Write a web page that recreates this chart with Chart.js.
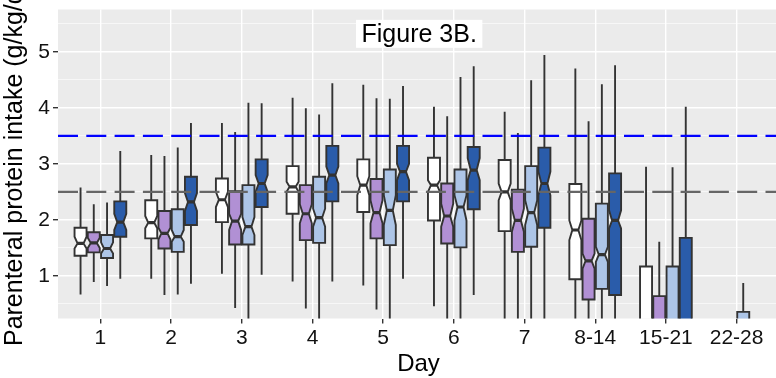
<!DOCTYPE html>
<html>
<head>
<meta charset="utf-8">
<script src="https://cdn.jsdelivr.net/npm/chart.js@4.4.1/dist/chart.umd.min.js"></script>
<style>
  html, body { margin: 0; padding: 0; overflow: hidden; background: #fff; }
  #wrap { width: 780px; height: 378px; position: relative; }
</style>
</head>
<body>
<div id="wrap"><canvas id="chart"></canvas></div>
<script>
// x categories
const days = ['1', '2', '3', '4', '5', '6', '7', '8-14', '15-21', '22-28']

// each entry: [whisker low, Q1, median, Q3, whisker high, notch low, notch high]
const groupWhite = [
  [0.67, 1.36, 1.58, 1.86, 2.58, 1.49, 1.70],
  [0.95, 1.67, 1.95, 2.35, 3.16, 1.85, 2.07],
  [1.04, 1.96, 2.36, 2.74, 3.73, 2.23, 2.50],
  [0.90, 2.11, 2.59, 2.96, 4.18, 2.50, 2.68],
  [0.83, 2.14, 2.62, 3.08, 4.41, 2.44, 2.78],
  [0.46, 1.99, 2.62, 3.11, 4.02, 2.50, 2.71],
  [0.10, 1.80, 2.50, 3.07, 3.93, 2.35, 2.65],
  [0.05, 0.94, 1.82, 2.64, 4.70, 1.64, 1.99],
  [0, 0, 0, 1.17, 2.95, null, null],
  null,
]
const groupPurple = [
  [0.89, 1.42, 1.59, 1.78, 2.28, 1.50, 1.68],
  [0.66, 1.49, 1.76, 2.16, 3.14, 1.65, 1.86],
  [0.43, 1.56, 1.98, 2.51, 3.57, 1.82, 2.11],
  [0.42, 1.64, 2.11, 2.62, 3.99, 1.94, 2.28],
  [0.40, 1.67, 2.13, 2.73, 4.17, 1.94, 2.35],
  [0.10, 1.58, 2.07, 2.65, 3.85, 1.88, 2.29],
  [0.10, 1.43, 1.99, 2.54, 3.55, 1.79, 2.20],
  [0.05, 0.58, 1.27, 2.02, 3.76, 1.13, 1.40],
  [0, 0, 0, 0.64, 1.61, null, null],
  null,
]
const groupLightBlue = [
  [0.82, 1.32, 1.49, 1.73, 2.31, 1.40, 1.60],
  [0.67, 1.43, 1.70, 2.19, 3.29, 1.61, 1.82],
  [0.10, 1.56, 1.88, 2.62, 4.09, 1.73, 2.05],
  [0.10, 1.59, 2.04, 2.77, 3.88, 1.88, 2.20],
  [0.10, 1.55, 2.17, 2.90, 4.16, 1.91, 2.44],
  [0.10, 1.51, 2.23, 2.90, 4.55, 1.99, 2.44],
  [0.10, 1.52, 2.13, 2.96, 4.49, 1.91, 2.35],
  [0.05, 0.77, 1.38, 2.29, 4.42, 1.25, 1.52],
  [0, 0, 0, 1.17, 2.94, null, null],
  [0, 0, 0, 0.36, 0.875, null, null],
]
const groupDarkBlue = [
  [0.95, 1.70, 1.96, 2.33, 3.23, 1.82, 2.11],
  [0.86, 1.91, 2.32, 2.77, 3.73, 2.16, 2.48],
  [1.02, 2.23, 2.65, 3.08, 4.08, 2.50, 2.80],
  [0.90, 2.33, 2.80, 3.32, 4.44, 2.65, 2.95],
  [0.95, 2.33, 2.86, 3.32, 4.39, 2.71, 3.00],
  [0.66, 2.19, 2.89, 3.30, 4.74, 2.71, 3.10],
  [0.10, 1.86, 2.65, 3.29, 4.94, 2.44, 2.86],
  [0.05, 0.66, 1.99, 2.83, 4.76, 1.85, 2.17],
  [0, 0, 0, 1.68, 4.02, null, null],
  null,
]

// reference lines
const refValues = [3.5, 2.5]
const refColors = ['#0000ff', '#666666']

const yTicks = [1, 2, 3, 4, 5]

const groups = [groupWhite, groupPurple, groupLightBlue, groupDarkBlue]
const fills = ['#ffffff', '#b190d4', '#adc5e7', '#2a5caa']
const offsets = [-0.281, -0.094, 0.094, 0.281]
const boxWidth = 0.17
const outline = '#333333'
const fontFamily = '"Liberation Sans", Arial, sans-serif'

const boxPlugin = {
  id: 'boxes',
  beforeDraw(chart) {
    const { ctx, chartArea: a } = chart
    ctx.save()
    ctx.fillStyle = '#ebebeb'
    ctx.fillRect(a.left, a.top, a.right - a.left, a.bottom - a.top)
    ctx.restore()
  },
  afterDatasetsDraw(chart) {
    const { ctx, chartArea: a } = chart
    const xs = chart.scales.x
    const ys = chart.scales.y
    const unit = xs.getPixelForValue(1) - xs.getPixelForValue(0)
    const hw = (boxWidth * unit) / 2

    ctx.save()
    ctx.beginPath()
    ctx.rect(a.left, a.top, a.right - a.left, a.bottom - a.top)
    ctx.clip()

    chart.data.datasets.forEach((ds) => {
      ds.boxes.forEach((s, i) => {
        if (!s) return
        const [lo, q1, med, q3, hi, nlo, nhi] = s
        const cx = xs.getPixelForValue(i + 1 + ds.offset)
        const py = (v) => ys.getPixelForValue(v)

        ctx.strokeStyle = outline
        ctx.lineWidth = 1.9
        ctx.beginPath()
        ctx.moveTo(cx, py(q3))
        ctx.lineTo(cx, py(hi))
        ctx.moveTo(cx, py(q1))
        ctx.lineTo(cx, py(lo))
        ctx.stroke()

        ctx.beginPath()
        if (nlo !== null) {
          ctx.moveTo(cx - hw, py(q3))
          ctx.lineTo(cx + hw, py(q3))
          ctx.lineTo(cx + hw, py(nhi))
          ctx.lineTo(cx + hw / 2, py(med))
          ctx.lineTo(cx + hw, py(nlo))
          ctx.lineTo(cx + hw, py(q1))
          ctx.lineTo(cx - hw, py(q1))
          ctx.lineTo(cx - hw, py(nlo))
          ctx.lineTo(cx - hw / 2, py(med))
          ctx.lineTo(cx - hw, py(nhi))
        } else {
          ctx.rect(cx - hw, py(q3), hw * 2, py(q1) - py(q3))
        }
        ctx.closePath()
        ctx.fillStyle = ds.fill
        ctx.fill()
        ctx.stroke()

        const mw = nlo !== null ? hw / 2 : hw
        ctx.lineWidth = 3.2
        ctx.beginPath()
        ctx.moveTo(cx - mw, py(med))
        ctx.lineTo(cx + mw, py(med))
        ctx.stroke()
      })
    })

    ctx.lineWidth = 2.2
    ctx.setLineDash([20, 8.3])
    refValues.forEach((v, k) => {
      ctx.strokeStyle = refColors[k]
      ctx.beginPath()
      ctx.moveTo(a.left, ys.getPixelForValue(v))
      ctx.lineTo(a.right, ys.getPixelForValue(v))
      ctx.stroke()
    })
    ctx.setLineDash([])

    // annotation label
    const lx = xs.getPixelForValue(5.51)
    const lyc = ys.getPixelForValue(5.32)
    ctx.font = '25px ' + fontFamily
    const tw = ctx.measureText('Figure 3B.').width
    ctx.fillStyle = '#ffffff'
    ctx.fillRect(lx - tw / 2 - 5.5, lyc - 14, tw + 11, 28)
    ctx.fillStyle = '#000000'
    ctx.textAlign = 'center'
    ctx.textBaseline = 'middle'
    ctx.fillText('Figure 3B.', lx, lyc + 1)
    ctx.restore()
  },
}

const datasets = groups.map((g, k) => ({
  type: 'scatter',
  data: g.map((s, i) => (s ? { x: i + 1 + offsets[k], y: s[2] } : null)).filter(Boolean),
  boxes: g,
  offset: offsets[k],
  fill: fills[k],
  pointRadius: 0,
  pointHoverRadius: 0,
}))

new Chart(document.getElementById('chart'), {
  type: 'scatter',
  data: { datasets },
  plugins: [boxPlugin],
  options: {
    responsive: true,
    maintainAspectRatio: false,
    animation: false,
    events: [],
    layout: { padding: { left: 0, top: 9.5, right: 1, bottom: 0 } },
    plugins: { legend: { display: false }, tooltip: { enabled: false } },
    scales: {
      x: {
        type: 'linear',
        min: 0.4,
        max: 10.6,
        afterFit: (s) => {
          s.height = 59.5
          s.paddingLeft = 0
          s.paddingRight = 0
        },
        border: { display: false },
        grid: { color: '#ffffff', lineWidth: 1.4, tickColor: '#333333', tickLength: 5 },
        ticks: {
          stepSize: 1,
          includeBounds: false,
          autoSkip: false,
          maxRotation: 0,
          padding: 2,
          color: '#111111',
          font: { family: fontFamily, size: 21 },
          callback: (v) => days[v - 1] ?? '',
        },
        title: {
          display: true,
          text: 'Day',
          color: '#000000',
          font: { family: fontFamily, size: 24 },
          padding: { top: 0, bottom: -1 },
        },
      },
      y: {
        type: 'linear',
        min: 0.241,
        max: 5.754,
        afterFit: (s) => {
          s.width = 58
          s.paddingTop = 0
          s.paddingBottom = 0
        },
        border: { display: false },
        grid: {
          color: '#ffffff',
          lineWidth: (c) => (yTicks.includes(c.tick.value) ? 1.4 : 0.6),
          tickColor: (c) => (yTicks.includes(c.tick.value) ? '#333333' : 'rgba(0,0,0,0)'),
          tickLength: 5,
        },
        ticks: {
          stepSize: 0.5,
          includeBounds: false,
          autoSkip: false,
          padding: 3,
          color: '#111111',
          font: { family: fontFamily, size: 21 },
          callback: (v) => (yTicks.includes(v) ? String(v) : ''),
        },
        title: {
          display: true,
          text: 'Parenteral protein intake (g/kg/d)',
          color: '#000000',
          font: { family: fontFamily, size: 25 },
          padding: { top: 0, bottom: 0 },
        },
      },
    },
  },
})
</script>
</body>
</html>
